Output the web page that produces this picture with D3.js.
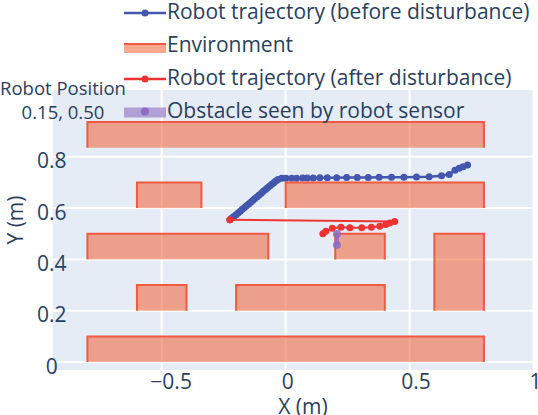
<!DOCTYPE html>
<html>
<head>
<meta charset="utf-8">
<script src="https://cdn.jsdelivr.net/npm/d3@7"></script>
<style>
  body { margin: 0; background: #fff; }
  text { font-family: "Open Sans", sans-serif; fill: #2a3f5f; }
</style>
</head>
<body>
<div id="chart"></div>
<script>
// trajectory before the disturbance
const blueX = [-0.225, -0.217, -0.209, -0.200, -0.192, -0.183, -0.175, -0.166, -0.158, -0.149, -0.141, -0.132,
               -0.124, -0.115, -0.107, -0.098, -0.090, -0.081, -0.073, -0.064, -0.056, -0.048, -0.040, -0.031,
               -0.016, 0.001, 0.024, 0.044, 0.069, 0.087, 0.111, 0.138, 0.168, 0.206, 0.246, 0.289, 0.333,
               0.377, 0.427, 0.477, 0.528, 0.579, 0.629, 0.660, 0.683, 0.700, 0.716, 0.734];
const blueY = [0.554, 0.561, 0.567, 0.574, 0.581, 0.588, 0.595, 0.602, 0.609, 0.616, 0.623, 0.630,
               0.637, 0.644, 0.651, 0.658, 0.665, 0.672, 0.679, 0.686, 0.693, 0.699, 0.705, 0.711,
               0.716, 0.716, 0.716, 0.716, 0.717, 0.717, 0.717, 0.718, 0.718, 0.718, 0.719, 0.719, 0.719,
               0.720, 0.720, 0.720, 0.721, 0.722, 0.726, 0.731, 0.747, 0.755, 0.761, 0.768];

// trajectory after the disturbance
const redX = [-0.225, 0.440, 0.420, 0.404, 0.380, 0.346, 0.307, 0.259, 0.223, 0.188, 0.162, 0.150];
const redY = [0.554, 0.548, 0.542, 0.536, 0.529, 0.525, 0.523, 0.523, 0.525, 0.521, 0.510, 0.500];

// obstacle seen by the sensor
const obsX = [0.207, 0.207];
const obsY = [0.499, 0.456];

// environment blocks: x0, x1, y0, y1
const envX0 = [-0.8, -0.6, 0.0, -0.8, 0.2, 0.6, -0.6, -0.2, -0.8];
const envX1 = [0.8, -0.34, 0.8, -0.07, 0.4, 0.8, -0.4, 0.4, 0.8];
const envY0 = [0.835, 0.6, 0.6, 0.4, 0.4, 0.2, 0.2, 0.2, 0.0];
const envY1 = [0.935, 0.7, 0.7, 0.5, 0.5, 0.5, 0.3, 0.3, 0.1];

const xTicks = [-0.5, 0, 0.5, 1];
const yTicks = [0, 0.2, 0.4, 0.6, 0.8];
const legendNames = ["Robot trajectory (before disturbance)", "Environment",
                     "Robot trajectory (after disturbance)", "Obstacle seen by robot sensor"];
const robotPos = ["Robot Position", "0.15, 0.50"];

const W = 538, H = 415;
const plot = {left: 52.7, right: 533.5, top: 90, bottom: 370};

const blueC = "#4257ad", redC = "#ee3333", envLine = "#ef5a40", envFill = "rgba(240,110,70,0.6)";
const purpleC = "#8c6cc0";

const svg = d3.select("#chart").append("svg")
    .attr("width", W).attr("height", H);

const x = d3.scaleLinear().domain([-0.94, 1.0]).range([plot.left, plot.right]);
const y = d3.scaleLinear().domain([-0.031, 1.06]).range([plot.bottom, plot.top]);

// background
svg.append("rect")
    .attr("x", plot.left).attr("y", plot.top)
    .attr("width", plot.right - plot.left).attr("height", plot.bottom - plot.top)
    .attr("fill", "#e5ecf6");

// grid
const grid = svg.append("g");
grid.selectAll(".gx").data(xTicks).join("line")
    .attr("x1", d => x(d)).attr("x2", d => x(d))
    .attr("y1", plot.top).attr("y2", plot.bottom)
    .attr("stroke", "#fff").attr("stroke-width", 2);
grid.selectAll(".gy").data(yTicks).join("line")
    .attr("x1", plot.left).attr("x2", plot.right)
    .attr("y1", d => y(d)).attr("y2", d => y(d))
    .attr("stroke", "#fff").attr("stroke-width", 2);

const line = d3.line().x(d => x(d[0])).y(d => y(d[1]));
const bluePts = blueX.map((v, i) => [v, blueY[i]]);
const redPts = redX.map((v, i) => [v, redY[i]]);
const obsPts = obsX.map((v, i) => [v, obsY[i]]);

// blue trajectory
svg.append("path").datum(bluePts)
    .attr("d", line).attr("fill", "none")
    .attr("stroke", blueC).attr("stroke-width", 2.5);
svg.append("g").selectAll("circle").data(bluePts).join("circle")
    .attr("cx", d => x(d[0])).attr("cy", d => y(d[1])).attr("r", 3.5)
    .attr("fill", blueC);

// environment (filled, outline on three sides)
const env = envX0.map((v, i) => ({x0: v, x1: envX1[i], y0: envY0[i], y1: envY1[i]}));
const envG = svg.append("g");
envG.selectAll("rect").data(env).join("rect")
    .attr("x", d => x(d.x0)).attr("y", d => y(d.y1))
    .attr("width", d => x(d.x1) - x(d.x0)).attr("height", d => y(d.y0) - y(d.y1))
    .attr("fill", envFill);
envG.selectAll("path").data(env).join("path")
    .attr("d", d => line([[d.x0, d.y0], [d.x0, d.y1], [d.x1, d.y1], [d.x1, d.y0]]))
    .attr("fill", "none").attr("stroke", envLine).attr("stroke-width", 2);

// red trajectory
svg.append("path").datum(redPts)
    .attr("d", line).attr("fill", "none")
    .attr("stroke", redC).attr("stroke-width", 2);
svg.append("g").selectAll("circle").data(redPts).join("circle")
    .attr("cx", d => x(d[0])).attr("cy", d => y(d[1])).attr("r", 3.5)
    .attr("fill", redC);

// obstacle
svg.append("path").datum(obsPts)
    .attr("d", line).attr("fill", "none")
    .attr("stroke", purpleC).attr("stroke-width", 4).attr("opacity", 0.85);
svg.append("g").selectAll("circle").data(obsPts).join("circle")
    .attr("cx", d => x(d[0])).attr("cy", d => y(d[1])).attr("r", 4)
    .attr("fill", purpleC).attr("opacity", 0.85);

// tick labels
svg.append("g").selectAll("text").data(yTicks).join("text")
    .attr("x", 51.7).attr("y", d => y(d) + 6)
    .attr("text-anchor", "middle").attr("dominant-baseline", "middle")
    .attr("font-size", 21)
    .text(d => d3.format("")(d));
svg.append("g").selectAll("text").data(xTicks).join("text")
    .attr("x", d => x(d)).attr("y", 383)
    .attr("text-anchor", "middle").attr("dominant-baseline", "middle")
    .attr("font-size", 21)
    .text(d => d3.format("")(d))
    .attr("dx", function() { return this.getComputedTextLength() * 0.25 - 1; });

// axis titles
svg.append("text").attr("x", 303).attr("y", 414)
    .attr("text-anchor", "middle").attr("font-size", 21).text("X (m)");
svg.append("text")
    .attr("transform", "translate(23,220) rotate(-90)")
    .attr("text-anchor", "middle").attr("font-size", 21).text("Y (m)");

// robot position annotation
svg.append("g").selectAll("text").data(robotPos).join("text")
    .attr("x", 63).attr("y", (d, i) => 90 + i * 24)
    .attr("text-anchor", "middle").attr("dominant-baseline", "middle")
    .attr("font-size", 18.5).text(d => d);

// legend
const legY = [13, 46, 79, 112.5];
const leg = svg.append("g");
legendNames.forEach((name, i) => {
    const g = leg.append("g").attr("transform", `translate(0, ${legY[i]})`);
    if (i === 0 || i === 2) {
        const c = i === 0 ? blueC : redC;
        g.append("line").attr("x1", 124).attr("x2", 166).attr("y1", 0).attr("y2", 0)
            .attr("stroke", c).attr("stroke-width", 2.5);
        g.append("circle").attr("cx", 145).attr("cy", 0).attr("r", 3.5).attr("fill", c);
    } else if (i === 1) {
        g.append("rect").attr("x", 124).attr("y", -2).attr("width", 42).attr("height", 9)
            .attr("fill", envFill);
        g.append("line").attr("x1", 124).attr("x2", 166).attr("y1", -2).attr("y2", -2)
            .attr("stroke", envLine).attr("stroke-width", 2);
    } else {
        g.append("line").attr("x1", 124).attr("x2", 166).attr("y1", 0).attr("y2", 0)
            .attr("stroke", purpleC).attr("stroke-width", 10).attr("opacity", 0.6);
        g.append("circle").attr("cx", 145).attr("cy", -1).attr("r", 4).attr("fill", purpleC);
    }
    g.append("text").attr("x", 167).attr("y", 0)
        .attr("dominant-baseline", "middle").attr("font-size", 21).text(name);
});
</script>
</body>
</html>
